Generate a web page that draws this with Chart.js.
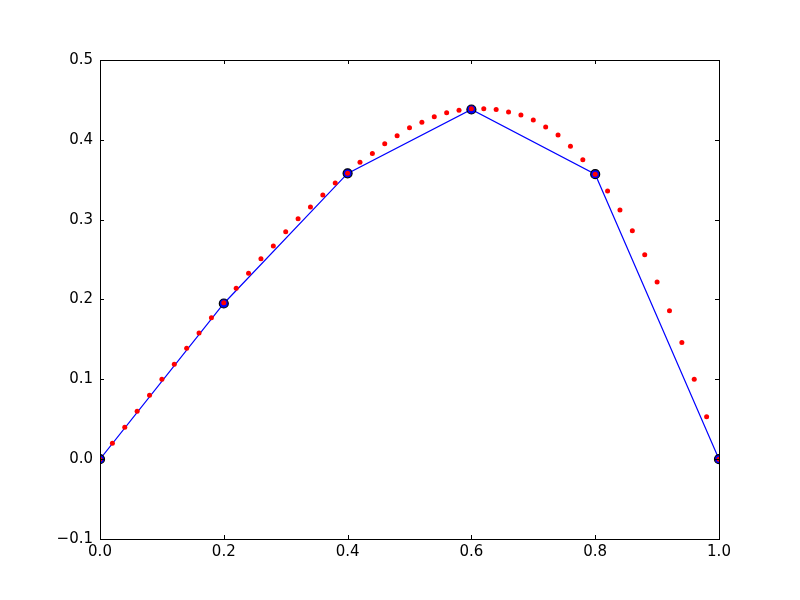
<!DOCTYPE html>
<html>
<head>
<meta charset="utf-8">
<script src="https://cdn.jsdelivr.net/npm/chart.js@4/dist/chart.umd.min.js"></script>
<style>
  html, body { margin: 0; padding: 0; background: #fff; }
  #wrap { width: 800px; height: 600px; position: relative; }
</style>
</head>
<body>
<div id="wrap"><canvas id="myChart"></canvas></div>
<script>
// red dots, fine sampling
const fineX = [0.00, 0.02, 0.04, 0.06, 0.08, 0.10, 0.12, 0.14, 0.16, 0.18,
  0.20, 0.22, 0.24, 0.26, 0.28, 0.30, 0.32, 0.34, 0.36, 0.38,
  0.40, 0.42, 0.44, 0.46, 0.48, 0.50, 0.52, 0.54, 0.56, 0.58,
  0.60, 0.62, 0.64, 0.66, 0.68, 0.70, 0.72, 0.74, 0.76, 0.78,
  0.80, 0.82, 0.84, 0.86, 0.88, 0.90, 0.92, 0.94, 0.96, 0.98, 1.00];
const fineY = [0.000, 0.020, 0.040, 0.060, 0.080, 0.100, 0.119, 0.139, 0.158, 0.177,
  0.196, 0.214, 0.233, 0.251, 0.267, 0.285, 0.301, 0.316, 0.331, 0.346,
  0.358, 0.372, 0.383, 0.395, 0.405, 0.415, 0.422, 0.429, 0.434, 0.437,
  0.439, 0.439, 0.438, 0.435, 0.431, 0.425, 0.416, 0.406, 0.392, 0.375,
  0.357, 0.336, 0.312, 0.286, 0.256, 0.222, 0.186, 0.146, 0.100, 0.053, 0.000];

// blue line, coarse sampling
const coarseX = [0.0, 0.2, 0.4, 0.6, 0.8, 1.0];
const coarseY = [0.000, 0.195, 0.358, 0.438, 0.357, 0.000];

const xTicks = [0.0, 0.2, 0.4, 0.6, 0.8, 1.0];
const yTicks = [-0.1, 0.0, 0.1, 0.2, 0.3, 0.4, 0.5];

const fmt = v => v.toFixed(1).replace('-', '\u2212');

// matplotlib-style frame with inward ticks on all four sides
const frame = {
  id: 'frame',
  afterDatasetsDraw(chart) {
    const c = chart.ctx;
    const a = chart.chartArea;
    const sx = chart.scales.x, sy = chart.scales.y;
    c.save();
    c.strokeStyle = '#000';
    c.lineWidth = 1;
    c.beginPath();
    xTicks.forEach(t => {
      const px = Math.round(sx.getPixelForValue(t)) + 0.5;
      c.moveTo(px, a.bottom); c.lineTo(px, a.bottom - 4);
      c.moveTo(px, a.top); c.lineTo(px, a.top + 4);
    });
    yTicks.forEach(t => {
      const py = Math.round(sy.getPixelForValue(t)) + 0.5;
      c.moveTo(a.left, py); c.lineTo(a.left + 4, py);
      c.moveTo(a.right, py); c.lineTo(a.right - 4, py);
    });
    c.stroke();
    c.strokeRect(Math.round(a.left) + 0.5, Math.round(a.top) + 0.5,
      Math.round(a.right - a.left), Math.round(a.bottom - a.top));
    c.restore();
  }
};

const ctx = document.getElementById('myChart').getContext('2d');

new Chart(ctx, {
  type: 'scatter',
  data: {
    datasets: [{
      data: fineX.map((x, i) => ({ x: x, y: fineY[i] })),
      showLine: false,
      pointRadius: 2.5,
      pointBackgroundColor: '#ff0000',
      pointBorderWidth: 0,
      order: 0,
      clip: 0
    }, {
      data: coarseX.map((x, i) => ({ x: x, y: coarseY[i] })),
      showLine: true,
      borderColor: '#0000ff',
      borderWidth: 1.2,
      tension: 0,
      pointRadius: 4.5,
      pointBackgroundColor: '#0000ff',
      pointBorderColor: '#000000',
      pointBorderWidth: 1.2,
      order: 1,
      clip: 0
    }]
  },
  options: {
    responsive: true,
    maintainAspectRatio: false,
    animation: false,
    layout: { padding: { top: 60, right: 81, left: 0, bottom: 0 } },
    plugins: {
      legend: { display: false },
      tooltip: { enabled: false }
    },
    scales: {
      x: {
        type: 'linear',
        min: 0, max: 1,
        afterFit: s => { s.height = 61; },
        afterBuildTicks: s => { s.ticks = xTicks.map(v => ({ value: v })); },
        grid: { display: false, drawTicks: false },
        border: { display: false },
        ticks: {
          padding: 4,
          color: '#000',
          font: { family: 'DejaVu Sans', size: 15 },
          callback: v => fmt(v)
        }
      },
      y: {
        type: 'linear',
        min: -0.1, max: 0.5,
        afterFit: s => { s.width = 100; },
        afterBuildTicks: s => { s.ticks = yTicks.map(v => ({ value: v })); },
        grid: { display: false, drawTicks: false },
        border: { display: false },
        ticks: {
          padding: 7,
          color: '#000',
          font: { family: 'DejaVu Sans', size: 15 },
          callback: v => fmt(v)
        }
      }
    }
  },
  plugins: [frame]
});
</script>
</body>
</html>
